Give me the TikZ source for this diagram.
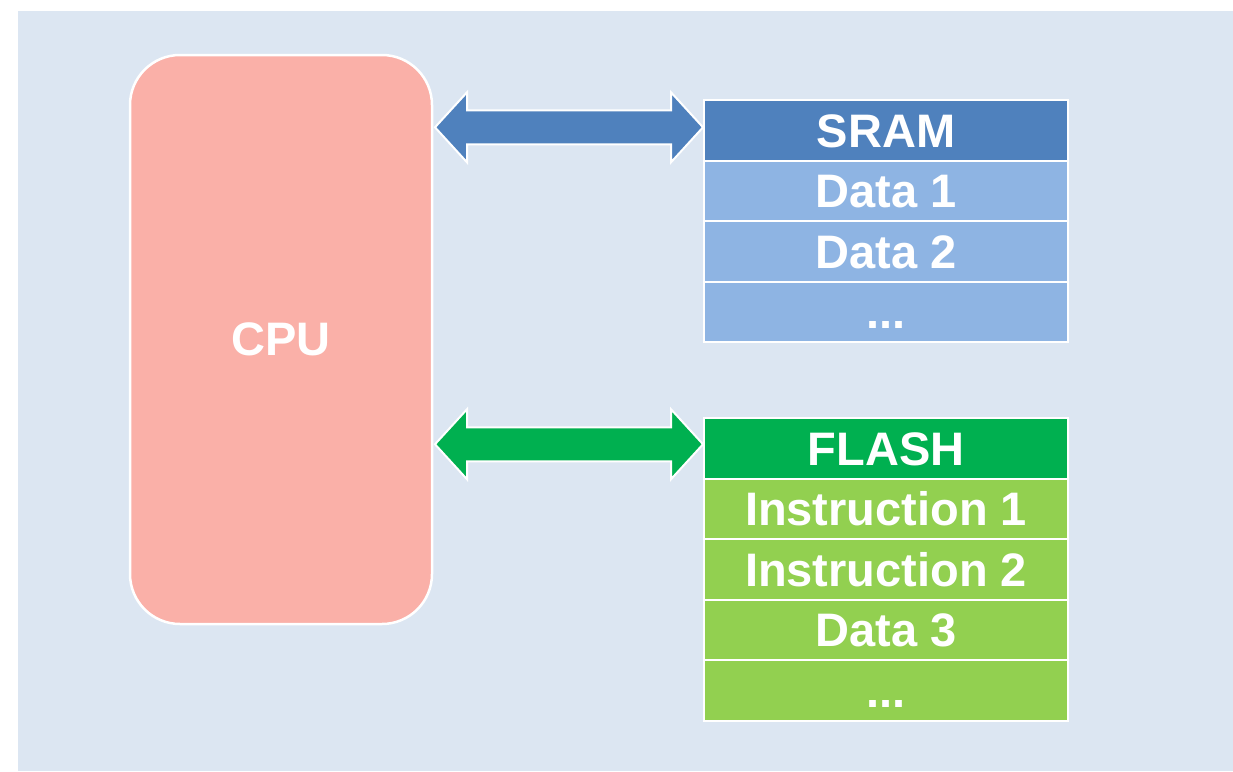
\documentclass[tikz,border=0pt]{standalone}
\usepackage{fontspec}
\setmainfont{Liberation Sans}
\usetikzlibrary{calc}
\definecolor{bgblue}{HTML}{DCE6F2}
\definecolor{cpufill}{HTML}{FAB0A8}
\definecolor{sramhead}{HTML}{4F81BD}
\definecolor{sramcell}{HTML}{8EB4E3}
\definecolor{flashhead}{HTML}{00B050}
\definecolor{flashcell}{HTML}{92D050}
% double-headed bus arrow between two points: #1 left tip, #2 right tip, #3 colour
\newcommand\busarrow[3]{%
  \filldraw[fill=#3, draw=white, line width=2pt, line join=miter]
    let \p1=(#1), \p2=(#2) in
    (\x1,\y1) -- (\x1+32,\y1+35) -- (\x1+32,\y1+17) -- (\x2-32,\y2+17)
    -- (\x2-32,\y2+35) -- (\x2,\y2) -- (\x2-32,\y2-35) -- (\x2-32,\y2-17)
    -- (\x1+32,\y1-17) -- (\x1+32,\y1-35) -- cycle;}
\begin{document}
\begin{tikzpicture}[x=1pt,y=-1pt,
  label/.style={text=white, font=\fontsize{47}{51}\selectfont\bfseries},
  cpubox/.style={label, fill=cpufill, draw=white, line width=2.5pt,
    rounded corners=50pt, minimum width=302pt, minimum height=569pt,
    inner sep=0pt, outer sep=0pt},
  cell/.style={label, draw=white, line width=2pt, minimum width=364pt,
    inner sep=0pt, outer sep=0pt, text height=33.5pt, text depth=0pt},
  srow/.style={cell, minimum height=60.6pt},
  frow/.style={cell, minimum height=60.5pt}]
\useasboundingbox (0,0) rectangle (1233,771);
\fill[bgblue] (18,11) rectangle (1233,771);

% processor
\node[cpubox] (cpu) at (281,339.5) {CPU};

% SRAM stack
\node[srow, fill=sramhead, anchor=north] (sram) at (886,100) {SRAM};
\node[srow, fill=sramcell, anchor=north] (sd1) at (sram.south) {Data 1};
\node[srow, fill=sramcell, anchor=north] (sd2) at (sd1.south) {Data 2};
\node[srow, fill=sramcell, anchor=north] (sdx) at (sd2.south) {...};

% FLASH stack
\node[frow, fill=flashhead, anchor=north] (flash) at (886,418) {FLASH};
\node[frow, fill=flashcell, anchor=north] (fi1) at (flash.south) {Instruction 1};
\node[frow, fill=flashcell, anchor=north] (fi2) at (fi1.south) {Instruction 2};
\node[frow, fill=flashcell, anchor=north] (fd3) at (fi2.south) {Data 3};
\node[frow, fill=flashcell, anchor=north] (fdx) at (fd3.south) {...};

% bus end points
\coordinate (sbusL) at ([shift={(3,-3)}]cpu.east |- sram.west);
\coordinate (sbusR) at ([shift={(-1,-3)}]sram.west);
\coordinate (fbusL) at ([shift={(3,-4)}]cpu.east |- flash.west);
\coordinate (fbusR) at ([shift={(-1,-4)}]flash.west);

\busarrow{sbusL}{sbusR}{sramhead}
\busarrow{fbusL}{fbusR}{flashhead}
\end{tikzpicture}
\end{document}
